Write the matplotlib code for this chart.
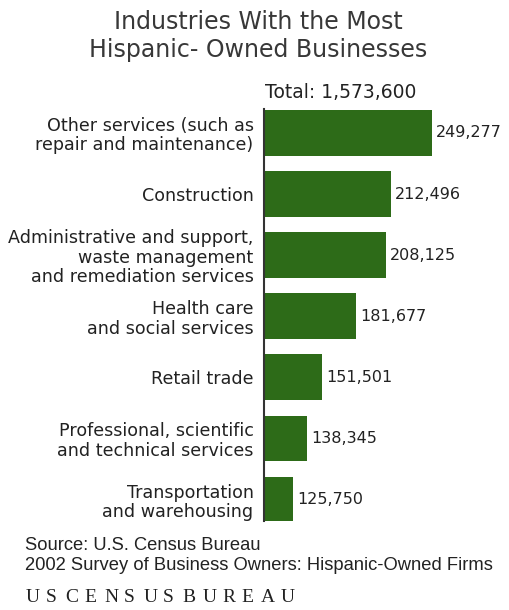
import matplotlib.pyplot as plt

categories = [
    "Other services (such as\nrepair and maintenance)",
    "Construction",
    "Administrative and support,\nwaste management\nand remediation services",
    "Health care\nand social services",
    "Retail trade",
    "Professional, scientific\nand technical services",
    "Transportation\nand warehousing",
]
values = [249277, 212496, 208125, 181677, 151501, 138345, 125750]
value_labels = ["249,277", "212,496", "208,125", "181,677", "151,501", "138,345", "125,750"]

W, H = 510, 610
fig = plt.figure(figsize=(W / 100, H / 100), dpi=100)
fig.patch.set_facecolor("white")

# axes placed in pixel terms
left_px, right_px, top_px, bot_px = 264, 510, 108.5, 521
ax = fig.add_axes([left_px / W, 1 - bot_px / H, (right_px - left_px) / W, (bot_px - top_px) / H])

ypos = list(range(len(values)))
ax.barh(ypos, values, height=0.75, color="#2d6b18", left=0)
ax.set_xlim(100000, 100000 + (right_px - left_px) * 889)
ax.set_ylim(6.35, -0.4)

for y, v, lab in zip(ypos, values, value_labels):
    ax.annotate(lab, (v, y), xytext=(3, 0), textcoords="offset points",
                va="center", ha="left", fontsize=11.5, color="#222222")

ax.set_yticks(ypos)
ax.set_yticklabels(categories, fontsize=12.6, color="#222222", linespacing=1.1,
                   multialignment="right")
ax.tick_params(axis="y", length=0, pad=7.5)
ax.set_xticks([])
for s in ["top", "right", "bottom"]:
    ax.spines[s].set_visible(False)
ax.spines["left"].set_color("#333333")
ax.spines["left"].set_linewidth(1.5)

fig.text(258 / W, 1 - 36 / H, "Industries With the Most\nHispanic- Owned Businesses",
         ha="center", va="center", fontsize=17, color="#383838", linespacing=1.25)
fig.text(265 / W, 1 - 92 / H, "Total: 1,573,600", ha="left", va="center",
         fontsize=13.5, color="#222222")

fig.text(25 / W, 1 - 545 / H, "Source: U.S. Census Bureau", ha="left", va="center",
         fontsize=13.2, family="Liberation Sans", color="#222222")
fig.text(25 / W, 1 - 566 / H, "2002 Survey of Business Owners: Hispanic-Owned Firms",
         ha="left", va="center", fontsize=13.2, family="Liberation Sans", color="#222222")
for i, ch in enumerate("USCENSUSBUREAU"):
    fig.text((26 + i * 19.6) / W, 1 - 597 / H, ch, ha="left", va="center",
             fontsize=14, family="Liberation Serif", color="#222222")

fig.savefig("out.png", dpi=100)
